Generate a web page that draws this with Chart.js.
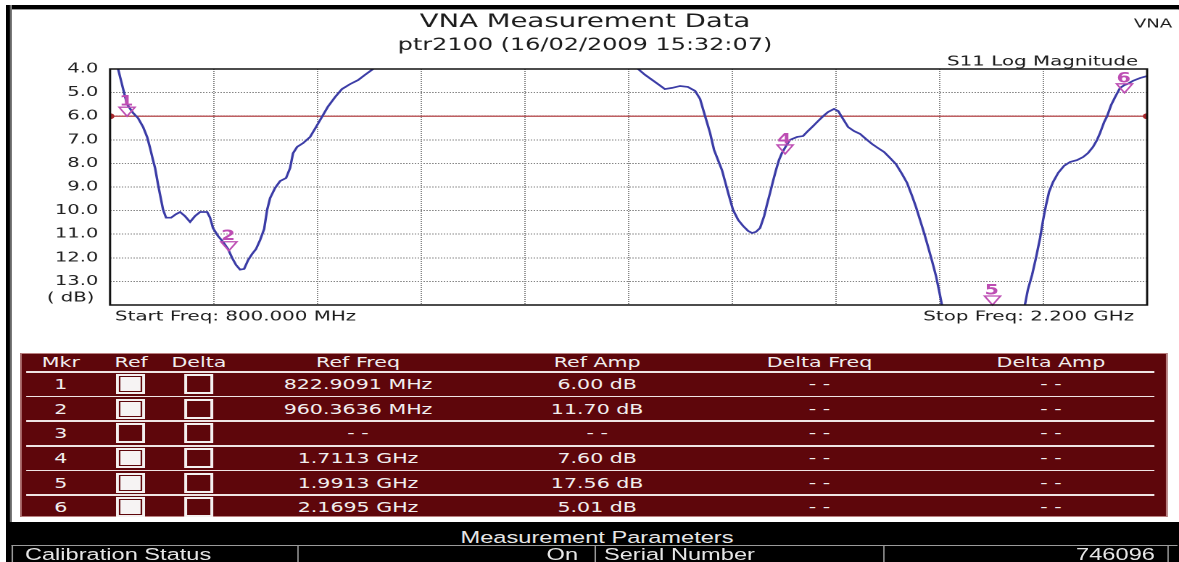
<!DOCTYPE html>
<html>
<head>
<meta charset="utf-8">
<script src="https://cdn.jsdelivr.net/npm/chart.js@4.4.1/dist/chart.umd.min.js"></script>
<style>
  html, body { margin: 0; padding: 0; background: #fff; overflow: hidden; }
  /* the source screenshot is stretched sideways, so the page is laid out narrow and widened */
  #stage { position: absolute; left: 0; top: 0; width: 813px; height: 562px;
           transform: scaleX(1.45018); transform-origin: 0 0; font-family: "DejaVu Sans", sans-serif; }
  .abs { position: absolute; }
  .txt { position: absolute; white-space: nowrap; line-height: 1; }
  #frameTop { left: 4.1px; top: 5px; width: 808.9px; height: 4px; background: #000; border-bottom: 1px solid #9a9a9a; }
  #frameLeft { left: 4.1px; top: 5px; width: 2.8px; height: 557px; background: #000; border-right: 0.7px solid #9a9a9a; }
  #chartBox { left: 0; top: 0; width: 813px; height: 330px; }
  #mkrTable { left: 14.3px; top: 352.7px; width: 791px; height: 164px; background: #5e060b;
              outline: 1px solid #b98080; outline-offset: -1px; color: #f1eded; font-size: 14.2px; }
  #footer { left: 4.1px; top: 521.7px; width: 808.9px; height: 40.3px; background: #000;
            color: #e6e6e6; font-family: "Liberation Sans", Arial, sans-serif; font-size: 16.3px; }
</style>
</head>
<body>
<div id="stage">
  <div id="chartBox" class="abs"><canvas id="vna" width="813" height="330"></canvas></div>
  <div id="frameTop" class="abs"></div>
  <div id="frameLeft" class="abs"></div>
  <div id="mkrTable" class="abs"></div>
  <div id="footer" class="abs"></div>
</div>
<script>
// ──── data ────────────────────────────────────────────────────
const startFreqMHz = 800;
const stopFreqMHz = 2200;
const gridStepMHz = 140;
const yTopDb = 4;
const yBottomDb = 14;
const limitDb = 6.0;

const traceFreqMHz = [
  800, 810.8, 818.9, 823, 831, 837.8, 844.6, 850, 854, 858, 860.8, 864.8, 868.9, 871.6, 875.6,
  882.4, 889, 894.5, 901, 908, 914.7, 921.5, 931, 935, 939, 945.8, 952.6, 959.3, 964.7, 970,
  975.5, 981, 986.3, 991.7, 997, 1002.5, 1008, 1012, 1016, 1022.8, 1029.5, 1037.6, 1043, 1047,
  1052.5, 1060.6, 1070, 1078, 1086, 1094, 1103.8, 1113, 1124, 1134.8, 1144, 1155,
  1210, 1280, 1350, 1420, 1480,
  1512.8, 1522.3, 1535.8, 1549, 1558.7, 1569.5, 1580, 1589.8, 1596.5, 1603.3, 1610, 1615.4,
  1626, 1635.6, 1641, 1648, 1654.6, 1661.3, 1666.7, 1672, 1677.5, 1683, 1687, 1691, 1695, 1699,
  1703, 1707, 1712.6, 1718, 1727.5, 1735.6, 1742, 1749, 1756, 1762.6, 1769.3, 1777.4, 1783,
  1789.6, 1796.4, 1804.4, 1812.5, 1820.6, 1828.8, 1836.8, 1845, 1853, 1861, 1869.2, 1876,
  1882.7, 1888, 1893.5, 1899, 1904, 1909.7, 1915, 1919, 1923,
  1950, 1975, 1991.3, 2010, 2025,
  2035, 2039, 2044.7, 2050, 2055.5, 2059.6, 2063.6, 2067.7, 2073, 2080, 2088, 2096, 2105.5,
  2113.6, 2120.3, 2127, 2132.5, 2136.5, 2142, 2146, 2151.4, 2156.8, 2163.6, 2169.5, 2173, 2181,
  2190.6, 2200
];
const traceDb = [
  3.0, 4.0, 5.0, 5.5, 5.86, 6.08, 6.46, 6.88, 7.35, 7.86, 8.2, 8.9, 9.55, 9.97, 10.3,
  10.3, 10.15, 10.06, 10.23, 10.48, 10.23, 10.06, 10.06, 10.3, 10.74, 11.08, 11.33, 11.63, 12.0, 12.3,
  12.5, 12.47, 12.1, 11.84, 11.63, 11.25, 10.78, 9.97, 9.47, 9.04, 8.75, 8.62, 8.2, 7.57,
  7.3, 7.14, 6.88, 6.46, 6.03, 5.6, 5.19, 4.85, 4.64, 4.47, 4.25, 4.0,
  3.4, 3.0, 2.9, 3.1, 3.5,
  4.0, 4.25, 4.55, 4.85, 4.8, 4.72, 4.76, 4.93, 5.27, 6.0, 6.71, 7.43,
  8.28, 9.38, 9.97, 10.4, 10.65, 10.86, 10.95, 10.9, 10.74, 10.23, 9.72, 9.25, 8.75, 8.28,
  7.86, 7.56, 7.26, 7.0, 6.88, 6.84, 6.63, 6.42, 6.2, 6.0, 5.82, 5.69, 5.78,
  6.12, 6.46, 6.63, 6.75, 6.97, 7.18, 7.35, 7.52, 7.77, 8.03, 8.45, 8.83,
  9.38, 9.85, 10.4, 10.95, 11.5, 12.14, 12.77, 13.36, 14.0,
  16.0, 17.3, 17.56, 16.9, 15.3,
  14.0, 13.36, 12.73, 12.0, 11.16, 10.4, 9.76, 9.2, 8.79, 8.4, 8.1, 7.94, 7.86,
  7.73, 7.56, 7.3, 7.0, 6.71, 6.25, 6.0, 5.53, 5.19, 4.8, 4.68, 4.64, 4.5,
  4.38, 4.3
];

const markerIds = [1, 2, 3, 4, 5, 6];
const markerFreqMHz = [822.9091, 960.3636, null, 1711.3, 1991.3, 2169.5];
const markerAmpDb = [6.00, 11.70, null, 7.60, 17.56, 5.01];
const markerRefOn = [true, true, false, true, true, true];
const markerDeltaOn = [false, false, false, false, false, false];

const tableHeaders = ["Mkr", "Ref", "Delta", "Ref Freq", "Ref Amp", "Delta Freq", "Delta Amp"];
const paramLabels = ["Calibration Status", "Serial Number"];
const paramValues = ["On", "746096"];

// ──── helpers ─────────────────────────────────────────────────
const TRACE_COLOR = "#3b3ca6";
const LIMIT_COLOR = "#a8282c";
const MARKER_COLOR = "#bd4db3";
const TEXT_COLOR = "#1c1c1c";

function fmtFreq(f) {
  if (f == null) return "- -";
  return f < 1000 ? `${f.toFixed(4)} MHz` : `${(f / 1000).toFixed(4)} GHz`;
}
function fmtAmp(a) { return a == null ? "- -" : `${a.toFixed(2)} dB`; }

function putText(parent, text, x, y, align, css) {
  const el = document.createElement("div");
  el.className = "txt";
  el.textContent = text;
  const tx = align === "left" ? "0" : align === "right" ? "-100%" : "-50%";
  el.style.left = x + "px";
  el.style.top = y + "px";
  el.style.transform = `translate(${tx}, -50%)`;
  if (css) Object.assign(el.style, css);
  parent.appendChild(el);
  return el;
}
function putRect(parent, x, y, w, h, bg) {
  const el = document.createElement("div");
  el.className = "abs";
  Object.assign(el.style, { left: x + "px", top: y + "px", width: w + "px", height: h + "px", background: bg });
  parent.appendChild(el);
  return el;
}

// ──── chart ───────────────────────────────────────────────────
const tracePoints = traceFreqMHz.map((f, i) => ({ x: f, y: traceDb[i] }));
const markerPoints = markerIds
  .map((id, i) => (markerFreqMHz[i] == null ? null : { x: markerFreqMHz[i], y: Math.min(markerAmpDb[i], yBottomDb), id }))
  .filter(Boolean);

const vnaDecor = {
  id: "vnaDecor",
  afterDatasetsDraw(chart) {
    const { ctx } = chart;
    const meta = chart.getDatasetMeta(2);
    const pts = chart.data.datasets[2].data;
    ctx.save();
    ctx.strokeStyle = MARKER_COLOR;
    ctx.fillStyle = MARKER_COLOR;
    ctx.lineWidth = 1.3;
    ctx.font = 'bold 14px "DejaVu Sans"';
    ctx.textAlign = "center";
    ctx.textBaseline = "alphabetic";
    // marker triangles sit with their tip on the trace value, number above
    meta.data.forEach((el, j) => {
      const { x, y } = el.getProps(["x", "y"], true);
      ctx.beginPath();
      ctx.moveTo(x - 5.5, y - 9);
      ctx.lineTo(x + 5.5, y - 9);
      ctx.lineTo(x, y);
      ctx.closePath();
      ctx.stroke();
      ctx.fillText(String(pts[j].id), x - 0.5, y - 10.5);
    });
    ctx.restore();
  },
  afterDraw(chart) {
    const { ctx, chartArea: a, scales: { y } } = chart;
    ctx.save();
    ctx.strokeStyle = "#111";
    ctx.lineWidth = 1.5;
    ctx.strokeRect(a.left, a.top, a.right - a.left, a.bottom - a.top);

    ctx.fillStyle = TEXT_COLOR;
    ctx.textBaseline = "alphabetic";
    ctx.font = '12.5px "DejaVu Sans"';
    ctx.textAlign = "right";
    ctx.fillText("VNA", chart.width - 4.7, 27.5);

    ctx.font = '13.7px "DejaVu Sans"';
    ctx.fillText("S11 Log Magnitude", a.right - 6.2, a.top - 3.5);
    ctx.fillText(`Stop Freq: ${(stopFreqMHz / 1000).toFixed(3)} GHz`, a.right - 9, a.bottom + 15.5);
    ctx.textAlign = "left";
    ctx.fillText(`Start Freq: ${startFreqMHz.toFixed(3)} MHz`, a.left + 3.4, a.bottom + 15.5);

    ctx.font = '13.5px "DejaVu Sans"';
    ctx.textAlign = "right";
    ctx.fillText("( dB)", a.left - 10.9, y.getPixelForValue(yBottomDb) - 3.3);
    ctx.restore();
  }
};

new Chart(document.getElementById("vna"), {
  type: "line",
  data: {
    datasets: [
      { data: tracePoints, borderColor: TRACE_COLOR, borderWidth: 1.7, pointRadius: 0, tension: 0, order: 1 },
      { data: [{ x: startFreqMHz, y: limitDb }, { x: stopFreqMHz, y: limitDb }], borderColor: LIMIT_COLOR,
        borderWidth: 1.2, pointRadius: 3, pointBackgroundColor: LIMIT_COLOR, pointBorderWidth: 0, order: 2 },
      { data: markerPoints, showLine: false, pointRadius: 0, order: 0 }
    ]
  },
  options: {
    responsive: false,
    animation: false,
    devicePixelRatio: 2,
    events: [],
    layout: { padding: { top: 6, left: 15.8, right: 22, bottom: 25 } },
    plugins: {
      legend: { display: false },
      tooltip: { enabled: false },
      title: { display: true, text: "VNA Measurement Data", color: TEXT_COLOR,
               font: { family: "DejaVu Sans", size: 19, weight: "normal" }, padding: { top: 4.6, bottom: 0 } },
      subtitle: { display: true, text: "ptr2100 (16/02/2009 15:32:07)", color: TEXT_COLOR,
                  font: { family: "DejaVu Sans", size: 16.5, weight: "normal" }, padding: { top: 2.2, bottom: 13.6 } }
    },
    scales: {
      x: {
        type: "linear", min: startFreqMHz, max: stopFreqMHz,
        ticks: { display: false, stepSize: gridStepMHz },
        grid: { color: "#858585", lineWidth: 1, drawTicks: false },
        border: { display: false, dash: [1, 1] },
        afterFit: (s) => { s.height = 0; }
      },
      y: {
        min: yTopDb, max: yBottomDb, reverse: true,
        ticks: { stepSize: 1, autoSkip: false, padding: 8, color: "#222",
                 font: { family: "DejaVu Sans", size: 13.5 },
                 callback: (v) => (v === yBottomDb ? "" : v.toFixed(1)) },
        grid: { color: "#858585", lineWidth: 1, drawTicks: false },
        border: { display: false, dash: [1, 1] },
        afterFit: (s) => { s.width = 60.1; }
      }
    }
  },
  plugins: [vnaDecor]
});

// ──── marker table ────────────────────────────────────────────
const tbl = document.getElementById("mkrTable");
const colX = [27.7, 76.2, 122.9, 232.6, 397.5, 550.8, 710.4];
tableHeaders.forEach((h, c) => putText(tbl, h, colX[c], 9.8, "center"));

function putBox(parent, cx, cy, on) {
  const el = putRect(parent, cx - 10, cy - 10, 20, 20, "transparent");
  el.style.boxSizing = "border-box";
  el.style.border = "2px solid #f4f0f0";
  if (on) el.style.boxShadow = "inset 0 0 0 1px #5e060b, inset 0 0 0 20px #f6f3f3";
}

markerIds.forEach((id, r) => {
  const lineY = 19.3 + r * 24.6;
  putRect(tbl, 4.1, lineY - 0.8, 777.4, 1.6, "#efe4e4");
  const cy = lineY + 12.3;
  putText(tbl, String(id), colX[0], cy, "center");
  putBox(tbl, colX[1], cy, markerRefOn[r]);
  putBox(tbl, colX[2], cy, markerDeltaOn[r]);
  putText(tbl, fmtFreq(markerFreqMHz[r]), colX[3], cy, "center");
  putText(tbl, fmtAmp(markerAmpDb[r]), colX[4], cy, "center");
  putText(tbl, "- -", colX[5], cy, "center");
  putText(tbl, "- -", colX[6], cy, "center");
});

// ──── measurement parameters ──────────────────────────────────
const foot = document.getElementById("footer");
putText(foot, "Measurement Parameters", 407.6, 15.3, "center");
putRect(foot, 4.2, 23.3, 803.3, 1, "#9a9a9a");
[4.2, 201.4, 406.2, 604.8, 801.3].forEach((x) => putRect(foot, x, 23.3, 0.8, 17, "#9a9a9a"));
putText(foot, paramLabels[0], 13.1, 32.3, "left");
putText(foot, paramValues[0], 394.5, 32.3, "right");
putText(foot, paramLabels[1], 412.4, 32.3, "left");
putText(foot, paramValues[1], 792.3, 32.3, "right");
</script>
</body>
</html>
